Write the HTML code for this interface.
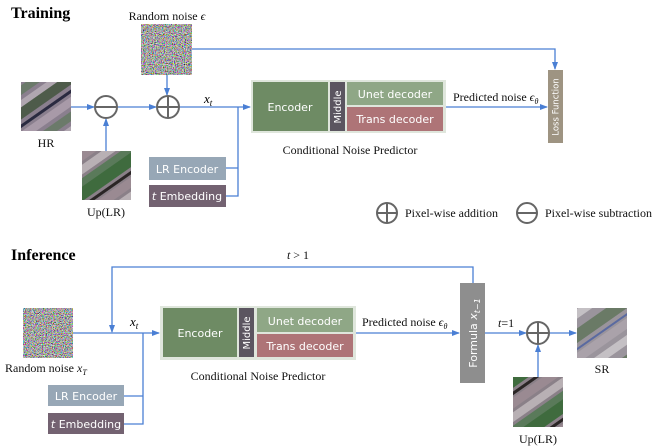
<!DOCTYPE html>
<html><head><meta charset="utf-8"><style>
html,body{margin:0;padding:0;background:#fff}
svg{display:block}
.s{font-family:"Liberation Serif",serif;font-size:12px;fill:#111}
.w{font-family:"DejaVu Sans","Liberation Sans",sans-serif;font-size:11px;fill:#fff}
</style></head><body>
<svg width="664" height="448" viewBox="0 0 664 448" xmlns="http://www.w3.org/2000/svg">
<defs>
<filter id="nz" x="0" y="0" width="100%" height="100%">
<feTurbulence type="fractalNoise" baseFrequency="0.9" numOctaves="2" seed="3"/>
<feColorMatrix type="matrix" values="2 0 0 0 -0.6  0 2 0 0 -0.6  0 0 2 0 -0.6  0 0 0 0 1"/>
</filter>
<marker id="ar" markerWidth="8" markerHeight="8" refX="7" refY="4" orient="auto" markerUnits="userSpaceOnUse">
<path d="M0,1 L8,4 L0,7 z" fill="#4a7fd4"/></marker>
<pattern id="sat" width="50" height="50" patternUnits="userSpaceOnUse" patternTransform="rotate(-35)">
<rect width="50" height="50" fill="#8a7f8e"/>
<rect y="0" width="50" height="10" fill="#4e5b4a"/>
<rect y="14" width="50" height="3" fill="#2a2a40"/>
<rect y="20" width="50" height="8" fill="#a89aa8"/>
<rect y="32" width="50" height="8" fill="#6b7a6a"/>
<rect y="44" width="50" height="6" fill="#b0a6b0"/>
</pattern>
<pattern id="sat2" width="50" height="50" patternUnits="userSpaceOnUse" patternTransform="rotate(-35)">
<rect width="50" height="50" fill="#8a8088"/>
<rect y="0" width="50" height="12" fill="#3f6b3e"/>
<rect y="15" width="50" height="3" fill="#2a2525"/>
<rect y="20" width="50" height="9" fill="#9a8a92"/>
<rect y="32" width="50" height="8" fill="#b8b0b4"/>
<rect y="43" width="50" height="7" fill="#5a7a5a"/>
</pattern>
<pattern id="sat3" width="50" height="50" patternUnits="userSpaceOnUse" patternTransform="rotate(-35)">
<rect width="50" height="50" fill="#9a949c"/>
<rect y="0" width="50" height="12" fill="#6a7a66"/>
<rect y="16" width="50" height="2" fill="#5a6aa0"/>
<rect y="20" width="50" height="9" fill="#aaa2aa"/>
<rect y="34" width="50" height="8" fill="#c4c0c4"/>
</pattern>
</defs>

<text x="11" y="18" font-family="Liberation Serif" font-weight="bold" font-size="16">Training</text>
<text class="s" x="167" y="20" text-anchor="middle">Random noise <tspan font-style="italic">ϵ</tspan></text>
<rect x="141" y="24" width="51" height="51" filter="url(#nz)"/>
<rect x="21" y="82" width="50" height="49" fill="url(#sat)"/>
<text class="s" x="46" y="147" text-anchor="middle">HR</text>
<rect x="82" y="151" width="49" height="49" fill="url(#sat2)"/>
<text class="s" x="106" y="216" text-anchor="middle">Up(LR)</text>

<g stroke="#4a7fd4" stroke-width="1.3" fill="none">
<path d="M192,49 H555 V69" marker-end="url(#ar)"/>
<path d="M71,107 H94" marker-end="url(#ar)"/>
<path d="M106,151 V119" marker-end="url(#ar)"/>
<path d="M117,107 H156" marker-end="url(#ar)"/>
<path d="M167,75 V95" marker-end="url(#ar)"/>
<path d="M179,107 H250" marker-end="url(#ar)"/>
<path d="M226,168 H238 V107 M226,196 H238 V168"/>
<path d="M446,107 H547" marker-end="url(#ar)"/>
</g>
<g stroke="#666" stroke-width="2" fill="none">
<circle cx="106" cy="107" r="11"/><path d="M95,107 H117"/>
<circle cx="168" cy="107" r="11"/><path d="M157,107 H179 M168,96 V118"/>
</g>
<text x="204" y="103" font-family="Liberation Serif" font-style="italic" font-size="13">x<tspan font-size="9" dy="3">t</tspan></text>

<rect x="251" y="80" width="195" height="53" fill="#dfe6dc"/>
<rect x="253" y="82" width="75" height="49" fill="#6e8b64"/>
<text class="w" x="290" y="111" text-anchor="middle">Encoder</text>
<rect x="330" y="82" width="15" height="49" fill="#5b5560"/>
<text class="w" transform="translate(341,107) rotate(-90)" text-anchor="middle" style="font-size:10px">Middle</text>
<rect x="347" y="82" width="96" height="23" fill="#8fa786"/>
<text class="w" x="395" y="98" text-anchor="middle">Unet decoder</text>
<rect x="347" y="107" width="96" height="24" fill="#ae7477"/>
<text class="w" x="395" y="123" text-anchor="middle">Trans decoder</text>
<text class="s" x="350" y="154" text-anchor="middle">Conditional Noise Predictor</text>
<text class="s" x="453" y="101">Predicted noise <tspan font-style="italic">ϵ<tspan font-size="8" dy="3">θ</tspan></tspan></text>

<rect x="548" y="70" width="15" height="73" fill="#9e9482"/>
<text class="w" transform="translate(558.5,107) rotate(-90)" text-anchor="middle" style="font-size:8.5px">Loss Function</text>

<rect x="149" y="157" width="77" height="23" fill="#97a7b6"/>
<text class="w" x="187" y="173" text-anchor="middle">LR Encoder</text>
<rect x="149" y="185" width="77" height="22" fill="#736271"/>
<text class="w" x="187" y="200" text-anchor="middle"><tspan font-style="italic">t</tspan> Embedding</text>

<g stroke="#666" stroke-width="2" fill="none">
<circle cx="387" cy="213" r="10"/><path d="M377,213 H397 M387,203 V223"/>
<circle cx="527" cy="213" r="10"/><path d="M517,213 H537"/>
</g>
<text class="s" x="405" y="217">Pixel-wise  addition</text>
<text class="s" x="545" y="217">Pixel-wise subtraction</text>

<text x="11" y="260" font-family="Liberation Serif" font-weight="bold" font-size="16">Inference</text>
<text class="s" x="298" y="259" text-anchor="middle"><tspan font-style="italic">t</tspan> &gt; 1</text>
<rect x="23" y="308" width="50" height="50" filter="url(#nz)"/>
<text class="s" x="5" y="372">Random noise <tspan font-style="italic">x<tspan font-size="8" dy="3">T</tspan></tspan></text>

<g stroke="#4a7fd4" stroke-width="1.3" fill="none">
<path d="M473,283 V267 H112 V332" marker-end="url(#ar)"/>
<path d="M73,333 H159" marker-end="url(#ar)"/>
<path d="M124,396 H143 V333 M124,424 H143 V396"/>
<path d="M355,333 H459" marker-end="url(#ar)"/>
<path d="M485,333 H526" marker-end="url(#ar)"/>
<path d="M538,377 V345" marker-end="url(#ar)"/>
<path d="M549,333 H576" marker-end="url(#ar)"/>
</g>
<text x="130" y="326" font-family="Liberation Serif" font-style="italic" font-size="13">x<tspan font-size="9" dy="3">t</tspan></text>

<rect x="48" y="385" width="76" height="21" fill="#97a7b6"/>
<text class="w" x="86" y="400" text-anchor="middle">LR Encoder</text>
<rect x="48" y="413" width="76" height="21" fill="#736271"/>
<text class="w" x="86" y="428" text-anchor="middle"><tspan font-style="italic">t</tspan> Embedding</text>

<rect x="160" y="306" width="196" height="54" fill="#dfe6dc"/>
<rect x="163" y="308" width="74" height="49" fill="#6e8b64"/>
<text class="w" x="200" y="337" text-anchor="middle">Encoder</text>
<rect x="239" y="308" width="15" height="49" fill="#5b5560"/>
<text class="w" transform="translate(250,333) rotate(-90)" text-anchor="middle" style="font-size:10px">Middle</text>
<rect x="257" y="308" width="96" height="24" fill="#8fa786"/>
<text class="w" x="305" y="325" text-anchor="middle">Unet decoder</text>
<rect x="257" y="334" width="96" height="23" fill="#ae7477"/>
<text class="w" x="305" y="350" text-anchor="middle">Trans decoder</text>
<text class="s" x="258" y="380" text-anchor="middle">Conditional Noise Predictor</text>
<text class="s" x="362" y="326">Predicted noise <tspan font-style="italic">ϵ<tspan font-size="8" dy="3">θ</tspan></tspan></text>

<rect x="460" y="283" width="25" height="100" fill="#8e8e8e"/>
<text class="w" transform="translate(477,333) rotate(-90)" text-anchor="middle">Formula <tspan font-style="italic">x<tspan style="font-size:8px" dy="3">t−1</tspan></tspan></text>
<text class="s" x="498" y="327"><tspan font-style="italic">t</tspan>=1</text>
<g stroke="#666" stroke-width="2" fill="none">
<circle cx="538" cy="333" r="11"/><path d="M527,333 H549 M538,322 V344"/>
</g>
<rect x="577" y="308" width="50" height="50" fill="url(#sat3)"/>
<text class="s" x="602" y="373" text-anchor="middle">SR</text>
<rect x="513" y="377" width="50" height="50" fill="url(#sat2)"/>
<text class="s" x="538" y="443" text-anchor="middle">Up(LR)</text>
</svg>
</body></html>
